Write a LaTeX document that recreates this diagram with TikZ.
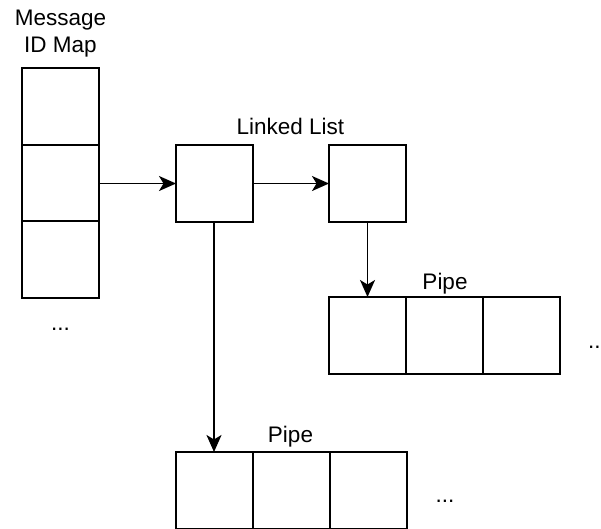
\documentclass[tikz,border=0pt]{standalone}
\usepackage{fontspec}
\setmainfont{Liberation Sans}
\usetikzlibrary{arrows.meta}
\begin{document}
\begin{tikzpicture}[x=1pt,y=-1pt,
  cell/.style={draw=black,line width=2pt,minimum width=77pt,minimum height=77pt,inner sep=0pt,outer sep=0pt,fill=white},
  lbl/.style={font=\fontsize{22.5}{27}\selectfont,inner sep=0pt,align=center},
  link/.style={draw=black,line width=1.8pt,-{Stealth[length=17pt,width=15pt,inset=4.5pt]}}]
\useasboundingbox (0,0) rectangle (601,528);
\clip (0,0) rectangle (601,528);
\fill[white] (0,0) rectangle (601,528);

% message id map column
\node[cell,anchor=north west] (m1) at (22,68) {};
\node[cell,anchor=north west] (m2) at (22,145) {};
\node[cell,anchor=north west] (m3) at (22,221) {};
\node[lbl,anchor=base] (mapname) at (60.5,52) {Message\\ID Map};
\node[lbl,anchor=base] (mapmore) at (60.5,330) {...};

% linked list
\node[cell,anchor=north west] (la) at (176,145) {};
\node[cell,anchor=north west] (lb) at (329,145) {};
\node[lbl,anchor=base] (listname) at (290.5,134) {Linked List};

% first pipe
\node[cell,anchor=north west] (p1) at (329,297) {};
\node[cell,anchor=north west] (p2) at (406,297) {};
\node[cell,anchor=north west] (p3) at (483,297) {};
\node[lbl,anchor=base] (pipeone) at (445,289) {Pipe};
\node[lbl,anchor=base west] (pipeonemore) at (588,348) {...};

% second pipe
\node[cell,anchor=north west] (q1) at (176,452) {};
\node[cell,anchor=north west] (q2) at (253,452) {};
\node[cell,anchor=north west] (q3) at (330,452) {};
\node[lbl,anchor=base] (pipetwo) at (290.5,442) {Pipe};
\node[lbl,anchor=base] (pipetwomore) at (445,502) {...};

% connectors
\draw[link] (m2.east) -- (la.west);
\draw[link] (la.east) -- (lb.west);
\draw[link] (lb.south) -- (lb.south |- p1.north);
\draw[link] ([xshift=-0.5pt]la.south) -- ([xshift=-0.5pt]la.south |- q1.north);
\end{tikzpicture}
\end{document}
